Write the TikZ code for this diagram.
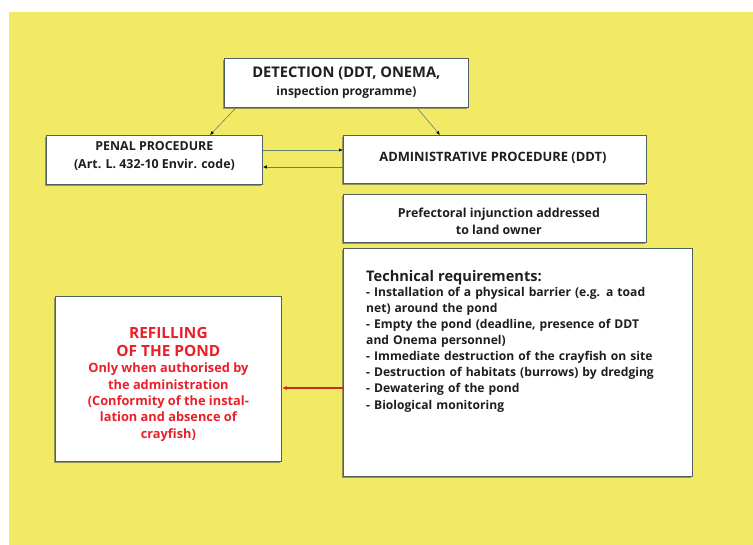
\documentclass[tikz,border=0pt]{standalone}
\usepackage{fontspec}
\setmainfont{Open Sans}
\usetikzlibrary{calc,shadows,arrows.meta}
\definecolor{bgyellow}{RGB}{242,234,100}
\definecolor{boxline}{RGB}{80,95,100}
\definecolor{conncol}{RGB}{100,130,120}
\definecolor{redtxt}{RGB}{232,32,42}
\definecolor{redarr}{RGB}{200,45,35}
\definecolor{txt}{RGB}{30,30,30}
\tikzset{
  box/.style={draw=boxline, line width=0.8pt, fill=white, anchor=north west, inner sep=0pt,
    drop shadow={shadow xshift=-1.5pt, shadow yshift=-1.8pt, fill=black!70, opacity=0.55}},
  conn/.style={draw=conncol, line width=0.6pt, -{Latex[length=4pt,width=3.2pt,black]}},
  redconn/.style={draw=redarr, line width=1.4pt, -{Latex[length=5pt,width=4pt]}},
  lbl/.style={text=txt, font=\bfseries, align=center, inner sep=0pt}
}
\begin{document}
\begin{tikzpicture}[x=1pt,y=-1pt]
\useasboundingbox (0,0) rectangle (753,545);
\fill[bgyellow] (9,12) rectangle (753,545);
% boxes
\node[box, minimum width=244pt, minimum height=49pt] (det) at (224,58) {};
\node[box, minimum width=216pt, minimum height=49pt] (pen) at (46,135) {};
\node[box, minimum width=303pt, minimum height=48pt] (adm) at (343,135) {};
\node[box, minimum width=303pt, minimum height=48pt] (pre) at (343,194) {};
\node[box, minimum width=349pt, minimum height=228pt] (tec) at (343,248) {};
\node[box, minimum width=226pt, minimum height=165pt] (ref) at (55,296) {};
% texts
\node[lbl, font=\fontsize{14.7}{16}\bfseries] (dett) at ($(det.center)+(0,-10)$) {DETECTION (DDT, ONEMA,};
\node[lbl, font=\fontsize{12}{13}\bfseries] (det2) at ($(det.center)+(0,9)$) {inspection programme)};
\node[lbl, font=\fontsize{12.4}{17.5}\bfseries] (pent) at ($(pen.center)+(0,-4)$) {PENAL PROCEDURE\\(Art. L. 432-10 Envir. code)};
\node[lbl, font=\fontsize{12.9}{15}\bfseries] (admt) at ($(adm.center)+(-2,-2)$) {ADMINISTRATIVE PROCEDURE (DDT)};
\node[lbl, font=\fontsize{12.4}{17.5}\bfseries] (pret) at ($(pre.center)+(4,3)$) {Prefectoral injunction addressed\\to land owner};
\node[lbl, align=left, anchor=north west, text width=340pt, font=\fontsize{12.1}{16}\bfseries] (tect) at (366,270)
 {{\fontsize{14.6}{16}\selectfont Technical requirements:}\\[-1pt]
  - Installation of a physical barrier (e.g. a toad\\
  net) around the pond\\
  - Empty the pond (deadline, presence of DDT\\
  and Onema personnel)\\
  - Immediate destruction of the crayfish on site\\
  - Destruction of habitats (burrows) by dredging\\
  - Dewatering of the pond\\[1pt]
  - Biological monitoring};
\node[lbl, text=redtxt, font=\fontsize{15.4}{18.5}\bfseries] (reft) at ($(ref.north)+(0,46)$) {REFILLING\\OF THE POND};
\node[lbl, text=redtxt, anchor=north, font=\fontsize{12.8}{16.3}\bfseries] (refb) at ($(ref.north)+(0,67)$)
 {Only when authorised by\\the administration\\(Conformity of the instal-\\lation and absence of\\crayfish)};
% connectors
\draw[conn] ($(det.south west)+(12,0)$) -- ($(pen.north west)+(164,0)$);
\draw[conn] ($(det.south west)+(193,0)$) -- ($(adm.north west)+(97,0)$);
\draw[conn] ($(pen.north east)+(0,15)$) -- ($(adm.north west)+(0,15)$);
\draw[conn] ($(adm.north west)+(0,32)$) -- ($(pen.north east)+(0,32)$);
\draw[redconn] ($(tec.north west)+(0,140)$) -- ($(ref.north east)+(0,92)$);
\end{tikzpicture}
\end{document}
